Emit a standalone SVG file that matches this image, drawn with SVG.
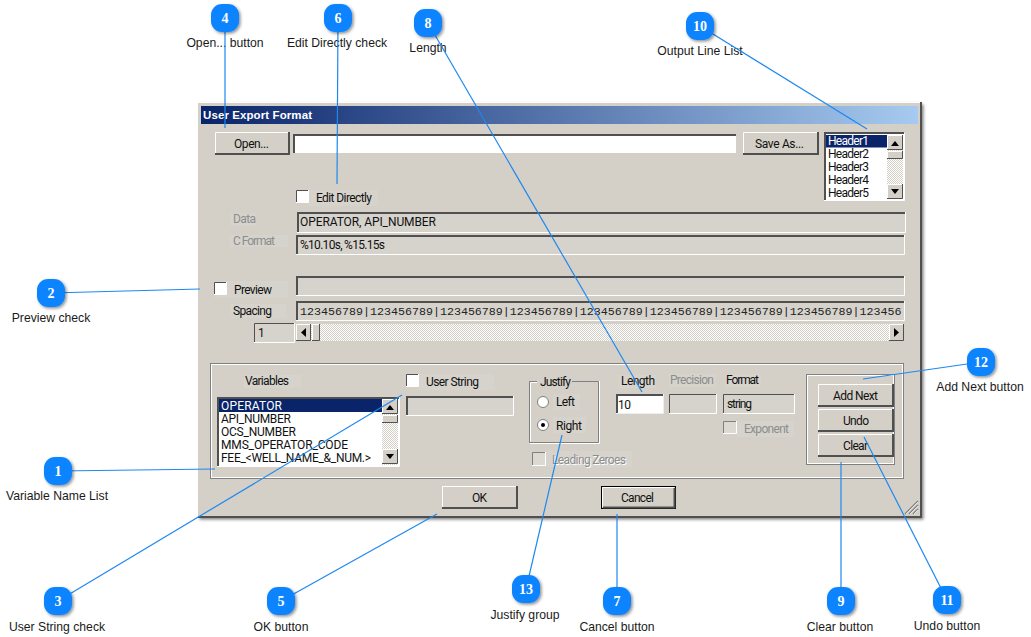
<svg xmlns="http://www.w3.org/2000/svg" width="1031" height="637" viewBox="0 0 1031 637">
<style>
text{font-family:"Liberation Sans",Arial,sans-serif}
.lb{font-size:12.2px;fill:#1a1a1a;text-anchor:middle}
.ui,.dis,.sel{font-family:Roboto,"Liberation Sans",sans-serif;font-size:12px}
.ui{fill:#111}
.dis{fill:#8d8d8d}
.sel{fill:#fff}
.mono{font-family:"Liberation Mono",monospace;font-size:11.67px;fill:#222}
.dk{fill:none;stroke:#505050;stroke-width:1}
.dk2{fill:none;stroke:#505050;stroke-width:2}
.wh{fill:none;stroke:#fff;stroke-width:1}
.gr{fill:none;stroke:#808080;stroke-width:1}
.bf{fill:#d4d0c8}
.fld{fill:#d6d3cc}
.wf{fill:#fff}
.sl{fill:#0a246a}
.tb{fill:url(#dots)}
.arr{fill:#000}
.txb{fill:#d6d3cc}
.badge{fill:#0a84ff;filter:url(#bs)}
.num{font-family:"Liberation Serif",serif;font-weight:bold;font-size:14px;fill:#fff;text-anchor:middle}
#connectors line{stroke:#1e88f0;stroke-width:1.2}
</style>
<defs>
<linearGradient id="tg"><stop offset="0" stop-color="#0a246a"/><stop offset="1" stop-color="#a6caf0"/></linearGradient>
<pattern id="dots" width="2" height="2" patternUnits="userSpaceOnUse"><rect width="2" height="2" fill="#fff"/><rect width="1" height="1" fill="#d4d0c8"/><rect x="1" y="1" width="1" height="1" fill="#d4d0c8"/></pattern>
<filter id="bs" x="-30%" y="-30%" width="170%" height="170%"><feDropShadow dx="1.500" dy="1.500" stdDeviation="1.500" flood-color="#000" flood-opacity=".45"/></filter>
<filter id="ws" x="-3%" y="-3%" width="106%" height="106%"><feDropShadow dx="2" dy="2" stdDeviation="1.500" flood-color="#000" flood-opacity=".5"/></filter>
</defs>
<rect width="1031" height="637" fill="#fff"/>
<g id="dialog">
<rect x="197.500" y="102.500" width="724" height="415" class="bf" filter="url(#ws)"/>
<path class="wh" d="M197.500 517V102.500H921"/><path class="dk2" d="M921 102V517H198"/>
<rect x="201" y="106" width="717" height="18" fill="url(#tg)"/>
<text x="203" y="119" font-weight="bold" font-size="11.500px" fill="#fff" textLength="109">User Export Format</text>

<g id="open-btn"><rect x="215" y="132" width="74" height="22" class="bf"/><path class="wh" d="M215.500 154V132.500H289"/><path class="dk2" d="M289 132V154H215"/><text x="234" y="148" class="ui" textLength="35">Open...</text></g>
<rect x="293" y="134" width="443" height="19" class="wf"/><path class="dk2" d="M294 153V135H736"/><path d="M293 153.500H736.500V134" fill="none" stroke="#d4d0c8"/>
<g id="saveas-btn"><rect x="743" y="132" width="75" height="22" class="bf"/><path class="wh" d="M743.500 154V132.500H818"/><path class="dk2" d="M818 132V154H743"/><text x="755" y="148" class="ui" textLength="49">Save As...</text></g>

<g id="header-list"><rect x="825" y="133" width="79" height="67" class="wf"/><path class="dk2" d="M825 200V133H904"/><path class="wh" d="M824 200.500H904.500V133"/>
<rect x="826" y="135" width="61" height="12.500" class="sl"/>
<text x="828" y="145" class="sel" textLength="41">Header1</text><text x="828" y="158" class="ui" textLength="41">Header2</text><text x="828" y="171" class="ui" textLength="41">Header3</text><text x="828" y="184" class="ui" textLength="41">Header4</text><text x="828" y="197" class="ui" textLength="41">Header5</text>
<rect x="887" y="135" width="16" height="64" class="tb"/>
<rect x="887" y="135" width="16" height="15" class="bf"/><path class="wh" d="M887.500 150V135.500H903"/><path class="dk" d="M902.500 135V149.500H887"/><path class="arr" d="M891 146H899L895 141Z"/>
<rect x="887" y="151" width="16" height="8" class="bf"/><path class="wh" d="M887.500 159V151.500H903"/><path class="dk" d="M902.500 151V158.500H887"/>
<rect x="887" y="184" width="16" height="15" class="bf"/><path class="wh" d="M887.500 199V184.500H903"/><path class="dk" d="M902.500 184V198.500H887"/><path class="arr" d="M891 189H899L895 194Z"/></g>

<g id="edit-directly"><rect x="308" y="190" width="70" height="16" class="txb"/><rect x="297" y="191" width="11" height="11" class="wf"/><path class="dk" d="M296.500 202V190.500H308"/><path class="wh" d="M296 202.500H308.500V190"/><text x="316" y="202" class="ui" textLength="56">Edit Directly</text></g>

<rect x="230" y="213" width="26" height="13" class="txb"/><text x="233" y="223" class="dis" textLength="23">Data</text>
<rect x="230" y="235" width="58" height="12" class="txb"/><text x="233" y="245" class="dis" textLength="42">C Format</text>
<rect x="297" y="212" width="608" height="20" class="fld"/><path class="dk2" d="M298 232V213H905"/><path class="wh" d="M297 232.500H905.500V212"/><text x="300" y="226" class="ui" textLength="136">OPERATOR, API_NUMBER</text>
<rect x="296" y="235" width="609" height="19" class="fld"/><path class="dk2" d="M297 254V236H905"/><path class="wh" d="M296 254.500H904.500V235"/><text x="300" y="249" class="ui" textLength="85">%10.10s, %15.15s</text>

<g id="preview"><rect x="214" y="281" width="74" height="17" class="txb"/><rect x="215" y="283" width="11" height="11" class="wf"/><path class="dk" d="M214.500 294V282.500H226"/><path class="wh" d="M214 294.500H226.500V282"/><text x="234" y="294" class="ui" textLength="38">Preview</text></g>
<rect x="296" y="276" width="609" height="19" class="fld"/><path class="dk2" d="M297 295V277H905"/><path class="wh" d="M296 295.500H904.500V276"/>
<rect x="230" y="304" width="56" height="14" class="txb"/><text x="233" y="315" class="ui" textLength="39">Spacing</text>
<rect x="296" y="301" width="609" height="19" class="fld"/><path class="dk2" d="M297 320V302H905"/><path class="wh" d="M296 320.500H904.500V301"/>
<text x="300" y="315" class="mono">123456789|123456789|123456789|123456789|123456789|123456789|123456789|123456789|123456</text>
<rect x="254" y="323" width="40" height="19" class="fld"/><path class="dk" d="M254.500 342V323.500H294"/><path class="wh" d="M254 342.500H294.500V323"/><text x="258" y="337" class="ui">1</text>

<g id="h-scroll"><rect x="296" y="324" width="608" height="17" class="tb"/>
<rect x="296" y="324" width="15" height="17" class="bf"/><path class="wh" d="M296.500 341V324.500H311"/><path class="dk" d="M310.500 324V340.500H296"/><path class="arr" d="M306 328V337L301 332.500Z"/>
<rect x="312" y="324" width="8" height="17" class="bf"/><path class="wh" d="M312.500 341V324.500H320"/><path class="dk" d="M319.500 324V340.500H312"/>
<rect x="889" y="324" width="15" height="17" class="bf"/><path class="wh" d="M889.500 341V324.500H904"/><path class="dk" d="M903.500 324V340.500H889"/><path class="arr" d="M894 328V337L899 332.500Z"/></g>

<rect x="210.500" y="363.500" width="693" height="115" fill="none" stroke="#808080"/><rect x="211.500" y="364.500" width="691" height="113" fill="none" stroke="#fff"/>
<rect x="244" y="375" width="57" height="13" class="txb"/><text x="245" y="385" class="ui" textLength="44">Variables</text>

<g id="var-list"><rect x="218" y="398" width="182" height="68" class="wf"/><path class="dk2" d="M218 466V398H399"/><path class="wh" d="M217 466.500H399.500V397"/>
<rect x="219" y="399" width="163" height="13" class="sl"/>
<text x="221" y="409.500" class="sel" textLength="61">OPERATOR</text><text x="221" y="422.500" class="ui" textLength="70">API_NUMBER</text><text x="221" y="435.500" class="ui" textLength="75">OCS_NUMBER</text><text x="221" y="448.500" class="ui" textLength="127">MMS_OPERATOR_CODE</text><text x="221" y="461.500" class="ui" textLength="150">FEE_&lt;WELL_NAME_&amp;_NUM.&gt;</text>
<rect x="382" y="399" width="16" height="66" class="tb"/>
<rect x="382" y="399" width="16" height="15" class="bf"/><path class="wh" d="M382.500 414V399.500H398"/><path class="dk" d="M397.500 399V413.500H382"/><path class="arr" d="M386 410H394L390 405Z"/>
<rect x="382" y="415" width="16" height="8" class="bf"/><path class="wh" d="M382.500 423V415.500H398"/><path class="dk" d="M397.500 415V422.500H382"/>
<rect x="382" y="449" width="16" height="15" class="bf"/><path class="wh" d="M382.500 464V449.500H398"/><path class="dk" d="M397.500 449V463.500H382"/><path class="arr" d="M386 454H394L390 459Z"/></g>

<g id="user-string"><rect x="418" y="374" width="76" height="16" class="txb"/><rect x="407" y="375" width="11" height="11" class="wf"/><path class="dk" d="M406.500 386V374.500H418"/><path class="wh" d="M406 386.500H418.500V374"/><text x="426" y="386" class="ui" textLength="53">User String</text></g>
<rect x="406" y="396" width="107" height="19" class="fld"/><path class="dk2" d="M407 415V397H513"/><path class="wh" d="M406 415.500H513.500V396"/>

<g id="justify"><path d="M537 381.500H529.500V442.500H598.500V381.500H572" fill="none" stroke="#808080"/><path d="M537 382.500H530.500V441.500M530 443.500H599.500V381" fill="none" stroke="#fff"/>
<text x="540" y="386" class="ui" textLength="31">Justify</text>
<circle cx="543" cy="402" r="5.500" fill="#fff" stroke="#808080"/>
<rect x="553" y="394" width="27" height="16" class="txb"/><text x="556" y="406" class="ui" textLength="19">Left</text>
<circle cx="543" cy="425" r="5.500" fill="#fff" stroke="#808080"/><circle cx="543" cy="425" r="2" fill="#000"/>
<rect x="553" y="417" width="33" height="16" class="txb"/><text x="556" y="430" class="ui" textLength="26">Right</text></g>

<g id="leading-zeroes"><rect x="546" y="451" width="86" height="16" class="txb"/><rect x="533" y="453" width="12" height="12" fill="#dcd8d2"/><path class="gr" d="M532.500 465V452.500H545"/><path class="wh" d="M532 465.500H545.500V452"/><text x="553" y="465" fill="#fff" style="font-family:Roboto,sans-serif;font-size:12px" textLength="74">Leading Zeroes</text><text x="552" y="464" class="dis" textLength="74">Leading Zeroes</text></g>

<rect x="618" y="375" width="38" height="13" class="txb"/><text x="621" y="385" class="ui" textLength="34">Length</text>
<rect x="669" y="374" width="47" height="13" class="txb"/><text x="670" y="384" class="dis" textLength="44">Precision</text>
<rect x="725" y="374" width="36" height="13" class="txb"/><text x="726" y="384" class="ui" textLength="33">Format</text>
<rect x="616" y="394" width="47" height="19" class="wf"/><path class="dk2" d="M617 413V395H663"/><path d="M616 413.500H663.500V394" fill="none" stroke="#eee"/><text x="618" y="409" class="ui" textLength="13">10</text>
<rect x="669" y="394" width="47" height="19" class="fld"/><path class="dk" d="M669.500 413V394.500H716"/><path class="wh" d="M669 413.500H716.500V394"/>
<rect x="723" y="394" width="71" height="19" class="fld"/><path class="dk" d="M723.500 413V394.500H794"/><path class="wh" d="M723 413.500H794.500V394"/><text x="727" y="408" class="ui" textLength="25">string</text>
<g id="exponent"><rect x="737" y="421" width="57" height="16" class="txb"/><rect x="724" y="422" width="12" height="11" fill="#dcd8d2"/><path class="gr" d="M723.500 433V421.500H736"/><path class="wh" d="M723 433.500H736.500V421"/><text x="744" y="433" class="dis" textLength="45">Exponent</text></g>

<rect x="806.500" y="374.500" width="88" height="90" fill="none" stroke="#808080"/><rect x="807.500" y="375.500" width="86" height="88" fill="none" stroke="#fff"/>
<g id="addnext-btn"><rect x="818" y="384" width="75" height="22" class="bf"/><path class="wh" d="M818.500 406V384.500H893"/><path class="dk2" d="M893 384V406H818"/><text x="833" y="400" class="ui" textLength="45">Add Next</text></g>
<g id="undo-btn"><rect x="818" y="409" width="75" height="22" class="bf"/><path class="wh" d="M818.500 431V409.500H893"/><path class="dk2" d="M893 409V431H818"/><text x="843" y="425" class="ui" textLength="26">Undo</text></g>
<g id="clear-btn"><rect x="818" y="434" width="75" height="22" class="bf"/><path class="wh" d="M818.500 456V434.500H893"/><path class="dk2" d="M893 434V456H818"/><text x="843" y="450" class="ui" textLength="25">Clear</text></g>

<g id="ok-btn"><rect x="442" y="486" width="75" height="22" class="bf"/><path class="wh" d="M442.500 508V486.500H517"/><path class="dk2" d="M517 486V508H442"/><text x="472" y="502" class="ui" textLength="15">OK</text></g>
<g id="cancel-btn"><rect x="601.500" y="486.500" width="74" height="22" class="bf" stroke="#000"/><path class="wh" d="M602.500 507V487.500H674"/><path class="dk2" d="M674.500 488V507.500H603"/><text x="621" y="502" class="ui" textLength="33">Cancel</text></g>
<path d="M905 514L918 501M909 514L918 505M913 514L918 509" stroke="#808080" stroke-width="1.500" fill="none"/>
<path d="M906 514L918 502M910 514L918 506M914 514L918 510" stroke="#fff" stroke-width=".7" fill="none"/>
</g>

<g id="labels">
<text x="57" y="500" class="lb">Variable Name List</text>
<text x="51" y="322" class="lb">Preview check</text>
<text x="57" y="631" class="lb">User String check</text>
<text x="225" y="47" class="lb">Open... button</text>
<text x="281" y="631" class="lb">OK button</text>
<text x="337" y="47" class="lb">Edit Directly check</text>
<text x="617" y="631" class="lb">Cancel button</text>
<text x="428" y="52" class="lb">Length</text>
<text x="840" y="631" class="lb">Clear button</text>
<text x="700" y="55" class="lb">Output Line List</text>
<text x="947" y="630" class="lb">Undo button</text>
<text x="980" y="391" class="lb">Add Next button</text>
<text x="525" y="619" class="lb">Justify group</text>
</g>

<g id="connectors">
<line x1="58" y1="471" x2="215" y2="469"/>
<line x1="51" y1="293" x2="200" y2="289"/>
<line x1="58" y1="601" x2="402" y2="395"/>
<line x1="225" y1="18" x2="225" y2="128"/>
<line x1="281" y1="601" x2="437" y2="514"/>
<line x1="338" y1="18" x2="337" y2="184"/>
<line x1="617" y1="601" x2="617" y2="514"/>
<line x1="428" y1="23" x2="642" y2="392"/>
<line x1="841" y1="601" x2="841" y2="462"/>
<line x1="700" y1="26" x2="867" y2="129"/>
<line x1="947" y1="600" x2="864" y2="437"/>
<line x1="981" y1="362" x2="863" y2="379"/>
<line x1="526" y1="589" x2="562" y2="435"/>
</g>

<g id="n1"><rect x="44" y="457" width="28" height="28" rx="11" class="badge"/><text x="58" y="476" class="num">1</text></g>
<g id="n2"><rect x="37" y="279" width="28" height="28" rx="11" class="badge"/><text x="51" y="298" class="num">2</text></g>
<g id="n3"><rect x="44" y="587" width="28" height="28" rx="11" class="badge"/><text x="58" y="606" class="num">3</text></g>
<g id="n4"><rect x="211" y="4" width="28" height="28" rx="11" class="badge"/><text x="225" y="23" class="num">4</text></g>
<g id="n5"><rect x="267" y="587" width="28" height="28" rx="11" class="badge"/><text x="281" y="606" class="num">5</text></g>
<g id="n6"><rect x="324" y="4" width="28" height="28" rx="11" class="badge"/><text x="338" y="23" class="num">6</text></g>
<g id="n7"><rect x="603" y="587" width="28" height="28" rx="11" class="badge"/><text x="617" y="606" class="num">7</text></g>
<g id="n8"><rect x="414" y="9" width="28" height="28" rx="11" class="badge"/><text x="428" y="28" class="num">8</text></g>
<g id="n9"><rect x="827" y="587" width="28" height="28" rx="11" class="badge"/><text x="841" y="606" class="num">9</text></g>
<g id="n10"><rect x="686" y="12" width="28" height="28" rx="11" class="badge"/><text x="700" y="31" class="num">10</text></g>
<g id="n11"><rect x="933" y="586" width="28" height="28" rx="11" class="badge"/><text x="947" y="605" class="num">11</text></g>
<g id="n12"><rect x="967" y="348" width="28" height="28" rx="11" class="badge"/><text x="981" y="367" class="num">12</text></g>
<g id="n13"><rect x="512" y="575" width="28" height="28" rx="11" class="badge"/><text x="526" y="594" class="num">13</text></g>
</svg>
